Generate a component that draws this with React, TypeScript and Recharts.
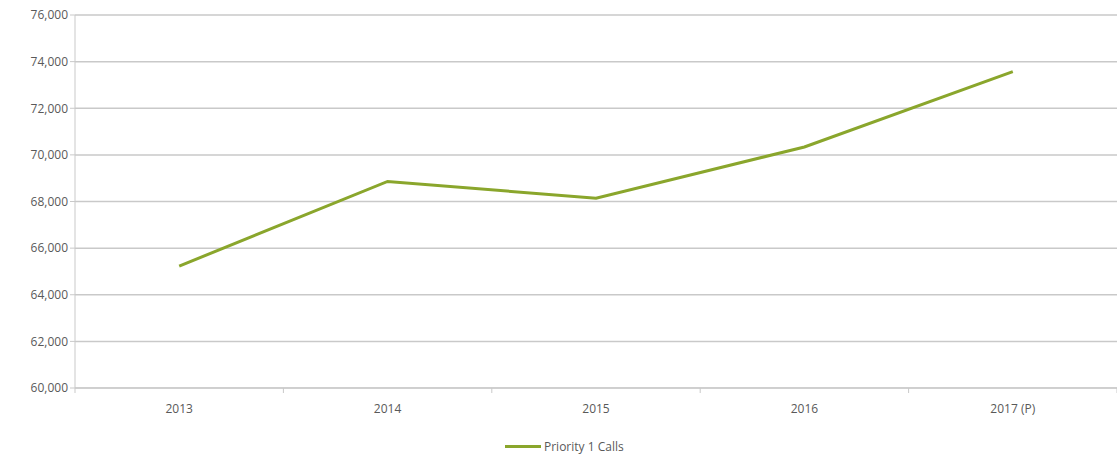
import { LineChart, Line, XAxis, YAxis, CartesianGrid, Legend } from 'recharts'

const years = ['2013', '2014', '2015', '2016', '2017 (P)']
const priorityCalls = [65230, 68860, 68140, 70340, 73570]
const yTicks = [60000, 62000, 64000, 66000, 68000, 70000, 72000, 74000, 76000]

const data = years.map((year, i) => ({ pos: i + 0.5, year, calls: priorityCalls[i] }))
const boundaryTicks = years.map((_, i) => i).concat(years.length)
const centerTicks = years.map((_, i) => i + 0.5)

const text = '#595959'
const grid = '#c9c9c9'
const green = '#8aa62c'

export default function App() {
  return (
    <div style={{ position: 'fixed', left: 0, top: 0, background: '#fff' }}>
      <LineChart width={1117} height={459} data={data} margin={{ top: 15, right: 0, bottom: 4, left: 0 }}>
        <CartesianGrid horizontal vertical={false} stroke={grid} strokeWidth={1.5} />
        {/* boundary ticks sit on the axis line, labels go in a second axis under it */}
        <XAxis
          xAxisId="a"
          type="number"
          dataKey="pos"
          domain={[0, years.length]}
          ticks={boundaryTicks}
          tickFormatter={() => ''}
          stroke={grid}
          tickSize={5}
          height={6}
        />
        <XAxis
          xAxisId="b"
          type="number"
          dataKey="pos"
          domain={[0, years.length]}
          ticks={centerTicks}
          tickFormatter={(v: number) => years[Math.round(v - 0.5)]}
          axisLine={false}
          tickLine={false}
          tick={{ fill: text, fontSize: 12, fontFamily: 'Open Sans' }}
          tickMargin={4}
          height={44}
        />
        <YAxis
          domain={[60000, 76000]}
          ticks={yTicks}
          tickFormatter={(v: number) => v.toLocaleString('en-US')}
          stroke={grid}
          tickSize={5}
          tick={{ fill: text, fontSize: 12, fontFamily: 'Open Sans' }}
          width={75}
        />
        <Legend
          verticalAlign="bottom"
          align="left"
          wrapperStyle={{ left: 505, width: 200, fontFamily: 'Open Sans', fontSize: 12 }}
          content={() => (
            <div style={{ display: 'flex', alignItems: 'center', color: text }}>
              <span style={{ display: 'inline-block', width: 36, height: 3, background: green, marginRight: 3 }} />
              Priority 1 Calls
            </div>
          )}
        />
        <Line
          xAxisId="a"
          type="linear"
          dataKey="calls"
          name="Priority 1 Calls"
          stroke={green}
          strokeWidth={3}
          dot={false}
          isAnimationActive={false}
        />
      </LineChart>
    </div>
  )
}
